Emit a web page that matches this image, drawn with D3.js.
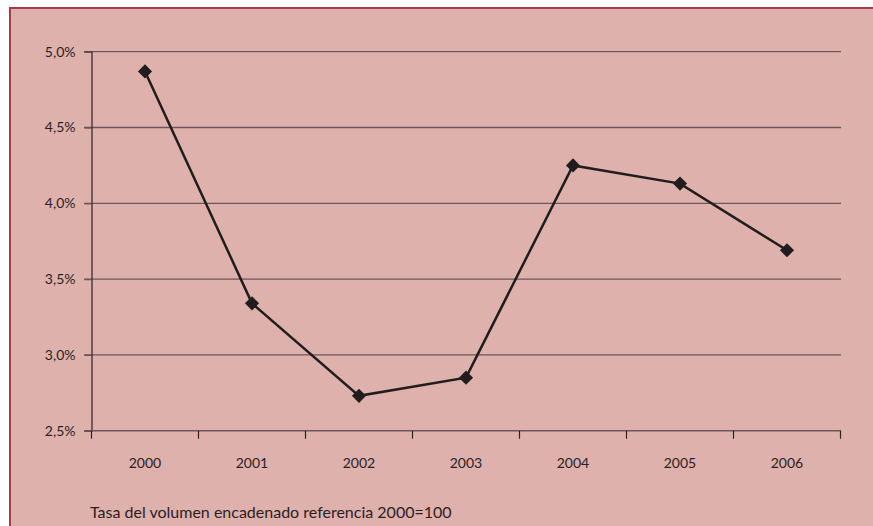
<!DOCTYPE html>
<html>
<head>
<meta charset="utf-8">
<script src="https://d3js.org/d3.v7.min.js"></script>
<style>
  body { margin: 0; background: #fff; }
  svg text { font-family: Lato, "DejaVu Sans", sans-serif; fill: #2a2222; }
</style>
</head>
<body>
<svg id="chart" width="873" height="526"></svg>
<script>
// data
var years = ["2000", "2001", "2002", "2003", "2004", "2005", "2006"];
var tasa = [4.87, 3.34, 2.73, 2.85, 4.25, 4.13, 3.69];
var yTicks = [2.5, 3.0, 3.5, 4.0, 4.5, 5.0];
var caption = "Tasa del volumen encadenado referencia 2000=100";

var svg = d3.select("#chart");

// panel with the red frame on top and left
svg.append("rect")
  .attr("x", 9).attr("y", 8).attr("width", 864).attr("height", 518)
  .attr("fill", "#dfb1ad");
svg.append("line")
  .attr("x1", 9).attr("y1", 8).attr("x2", 873).attr("y2", 8)
  .attr("stroke", "#a8394b").attr("stroke-width", 2);
svg.append("line")
  .attr("x1", 10).attr("y1", 8).attr("x2", 10).attr("y2", 526)
  .attr("stroke", "#a8394b").attr("stroke-width", 2);

var x = d3.scaleBand().domain(years).range([91.5, 840.5]);
var y = d3.scaleLinear().domain([2.5, 5.0]).range([430.7, 51.7]);

// horizontal grid
svg.append("g").selectAll("line")
  .data(yTicks.slice(1))
  .join("line")
  .attr("x1", 84).attr("x2", 841)
  .attr("y1", function(d) { return y(d); })
  .attr("y2", function(d) { return y(d); })
  .attr("stroke", "#6b5757").attr("stroke-width", 1.3);

// y axis
var yAxis = svg.append("g")
  .attr("transform", "translate(91.5,0)")
  .call(d3.axisLeft(y).tickValues(yTicks).tickSize(7).tickPadding(9)
    .tickFormat(function(d) { return d3.format(".1f")(d).replace(".", ",") + "%"; }));
yAxis.select(".domain").attr("stroke", "#2a2222").attr("stroke-width", 1.2);
yAxis.selectAll(".tick line").attr("stroke", "#6b5757").attr("stroke-width", 1.3);
yAxis.selectAll("text").attr("font-size", 14).attr("fill", "#2a2222");

// x axis
var xTickPos = years.map(function(d) { return x(d); }).concat([x.range()[1]]);
var xAxis = svg.append("g")
  .attr("transform", "translate(0,430.7)");
xAxis.append("line")
  .attr("x1", 84).attr("x2", 841)
  .attr("stroke", "#6b5757").attr("stroke-width", 1.5);
xAxis.selectAll(".tk")
  .data(xTickPos)
  .join("line")
  .attr("class", "tk")
  .attr("x1", function(d) { return d; }).attr("x2", function(d) { return d; })
  .attr("y1", 0).attr("y2", 8)
  .attr("stroke", "#2a2222").attr("stroke-width", 1.2);
xAxis.selectAll("text")
  .data(years)
  .join("text")
  .attr("x", function(d) { return x(d) + x.bandwidth() / 2; })
  .attr("y", 37)
  .attr("text-anchor", "middle")
  .attr("font-size", 14)
  .text(function(d) { return d; });

// line + diamond markers
var pts = years.map(function(d, i) { return { year: d, v: tasa[i] }; });
var line = d3.line()
  .x(function(d) { return x(d.year) + x.bandwidth() / 2; })
  .y(function(d) { return y(d.v); });

svg.append("path")
  .datum(pts)
  .attr("d", line)
  .attr("fill", "none")
  .attr("stroke", "#221d1d")
  .attr("stroke-width", 2.5);

svg.append("g").selectAll("path")
  .data(pts)
  .join("path")
  .attr("d", d3.symbol().type(d3.symbolSquare).size(100))
  .attr("transform", function(d) {
    return "translate(" + (x(d.year) + x.bandwidth() / 2) + "," + y(d.v) + ") rotate(45)";
  })
  .attr("fill", "#221d1d");

svg.append("text")
  .attr("x", 90).attr("y", 518)
  .attr("font-size", 16)
  .text(caption);
</script>
</body>
</html>
